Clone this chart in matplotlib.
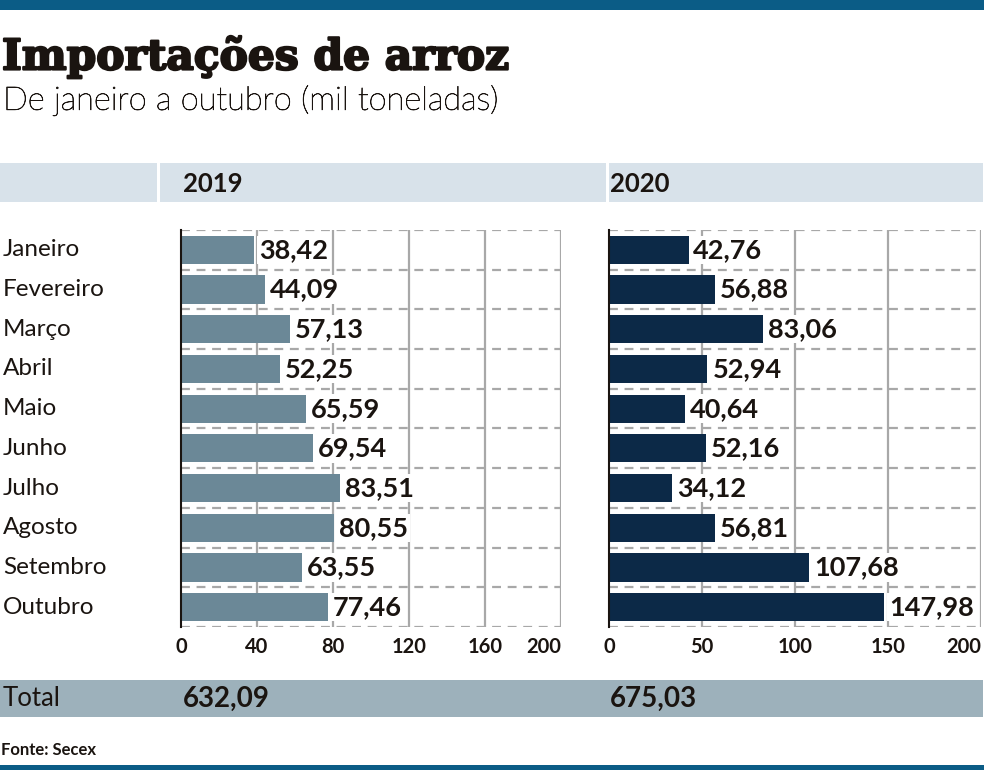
import matplotlib.pyplot as plt
import matplotlib.patheffects as pe
from matplotlib.patches import Rectangle

# Importações de arroz, jan-out (mil toneladas)
meses = ['Janeiro', 'Fevereiro', 'Março', 'Abril', 'Maio', 'Junho',
         'Julho', 'Agosto', 'Setembro', 'Outubro']
valores_2019 = [38.42, 44.09, 57.13, 52.25, 65.59, 69.54, 83.51, 80.55, 63.55, 77.46]
valores_2020 = [42.76, 56.88, 83.06, 52.94, 40.64, 52.16, 34.12, 56.81, 107.68, 147.98]
total_2019 = '632,09'
total_2020 = '675,03'
ticks_2019 = [0, 40, 80, 120, 160, 200]
ticks_2020 = [0, 50, 100, 150, 200]

W, H = 984, 770
FONT = ['Lato', 'DejaVu Sans']
TXT = '#1a1410'
AZUL = '#0b5c86'
COR_2019 = '#6b8897'
COR_2020 = '#0c2947'


def fx(x):
    return x / W


def fy(y):
    return 1 - y / H


def fmt(v):
    return f'{v:.2f}'.replace('.', ',')


fig = plt.figure(figsize=(W / 100, H / 100), dpi=100)

# faixas de fundo
def faixa(x0, y0, x1, y1, cor):
    fig.patches.append(Rectangle((fx(x0), fy(y1)), fx(x1) - fx(x0), fy(y0) - fy(y1),
                                 transform=fig.transFigure, facecolor=cor,
                                 edgecolor='none', zorder=0))

faixa(0, 0, W, 10, AZUL)
faixa(0, 765, W, H, AZUL)
faixa(0, 163, 157, 202, '#d8e2ea')
faixa(160, 163, 606, 202, '#d8e2ea')
faixa(609, 163, 983, 202, '#d8e2ea')
faixa(0, 680, 983, 717, '#9db1bb')

fig.text(fx(2), fy(57), 'Importações de arroz', family='DejaVu Serif',
         fontweight='bold', fontsize=30.5, color=TXT, va='center', ha='left',
         path_effects=[pe.withStroke(linewidth=1.6, foreground=TXT)])
fig.text(fx(3), fy(100), 'De janeiro a outubro (mil toneladas)', family=FONT,
         fontweight='light', fontsize=23.5, color=TXT, va='center', ha='left',
         path_effects=[pe.withStroke(linewidth=0.5, foreground=TXT)])

fig.text(fx(183), fy(184), '2019', family=FONT, fontweight='bold', fontsize=18.5,
         color=TXT, va='center')
fig.text(fx(610), fy(184), '2020', family=FONT, fontweight='bold', fontsize=18.5,
         color=TXT, va='center')

fig.text(fx(3), fy(699), 'Total', family=FONT, fontsize=18.5, color=TXT, va='center')
fig.text(fx(183), fy(699), total_2019, family=FONT, fontweight='bold', fontsize=20,
         color=TXT, va='center')
fig.text(fx(610), fy(699), total_2020, family=FONT, fontweight='bold', fontsize=20,
         color=TXT, va='center')
fig.text(fx(1), fy(750), 'Fonte: Secex', family=FONT, fontweight='bold', fontsize=12,
         color=TXT, va='center')

# nomes dos meses
for i, m in enumerate(meses):
    yc = 230 + (i + 0.5) * 39.7
    fig.text(fx(3), fy(yc), m, family=FONT, fontsize=17.5, color=TXT, va='center')


def painel(x0, x1, valores, ticks, cor):
    ax = fig.add_axes([fx(x0), fy(627), fx(x1) - fx(x0), fy(230) - fy(627)])
    y = list(range(len(valores)))
    ax.barh(y, valores, height=0.71, color=cor, zorder=3)
    ax.set_xlim(0, 200)
    ax.set_ylim(len(valores) - 0.5, -0.5)
    ax.set_yticks([])
    ax.set_xticks(ticks)
    labels = ax.set_xticklabels([str(t) for t in ticks], family=FONT, fontweight='bold',
                                fontsize=14.5, color=TXT)
    labels[-1].set_horizontalalignment('right')
    ax.tick_params(axis='x', length=0, pad=7)
    for t in ticks[1:]:
        ax.axvline(t, color='#a8a8a8', lw=1.6, zorder=1)
    for k in range(len(valores) + 1):
        ax.axhline(k - 0.5, color='#a8a8a8', lw=1.6, ls=(0, (4, 3)), zorder=2)
    for s in ['top', 'right', 'bottom']:
        ax.spines[s].set_visible(False)
    ax.spines['left'].set_color(TXT)
    ax.spines['left'].set_linewidth(1.5)
    ax.spines['left'].set_zorder(4)
    for yi, v in zip(y, valores):
        ax.annotate(fmt(v), (v, yi), xytext=(3.5, 0), textcoords='offset points',
                    va='center', ha='left', family=FONT, fontweight='bold',
                    fontsize=19.5, color=TXT, zorder=5,
                    bbox=dict(facecolor='white', edgecolor='none', pad=1.5))
    return ax


painel(181, 561, valores_2019, ticks_2019, COR_2019)
painel(609, 981, valores_2020, ticks_2020, COR_2020)

fig.savefig('out.png', dpi=100)
